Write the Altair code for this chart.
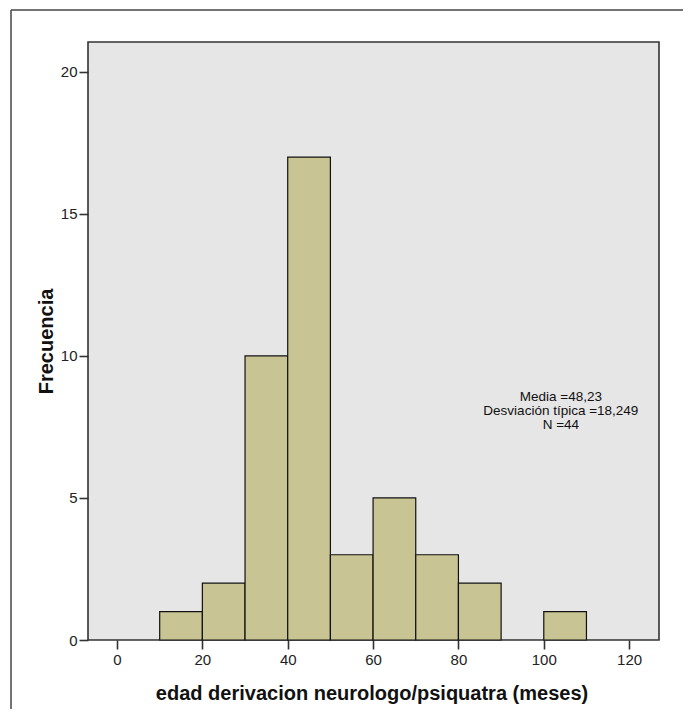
import altair as alt
import pandas as pd

bin_start = [10, 20, 30, 40, 50, 60, 70, 80, 100]
bin_end = [20, 30, 40, 50, 60, 70, 80, 90, 110]
counts = [1, 2, 10, 17, 3, 5, 3, 2, 1]
x_ticks = [0, 20, 40, 60, 80, 100, 120]
y_ticks = [0, 5, 10, 15, 20]
stats_lines = ["Media =48,23", "Desviación típica =18,249", "N =44"]
stats_x = [104, 104, 104]
stats_y = [8.54, 8.06, 7.58]

df = pd.DataFrame({"start": bin_start, "end": bin_end, "count": counts})
df_txt = pd.DataFrame({"x": stats_x, "y": stats_y, "t": stats_lines})

W, H = 571, 598
FONT = "Liberation Sans"

xscale = alt.Scale(domain=[-6.8, 127], nice=False, zero=False)
yscale = alt.Scale(domain=[0, 21.05], nice=False)

bars = alt.Chart(df).mark_rect(fill="#c9c493", stroke="#111111", strokeWidth=1.2).encode(
    x=alt.X("start:Q", scale=xscale,
            axis=alt.Axis(values=x_ticks, title="edad derivacion neurologo/psiquatra (meses)",
                          grid=False, domain=False, tickSize=9, tickWidth=1.6, tickColor="#333333",
                          labelPadding=3, labelFontSize=15, labelFont=FONT, labelColor="#222222",
                          titleFont=FONT, titleFontSize=20, titleFontWeight="bold", titleColor="#111111",
                          titleX=W / 2 - 2, titleY=53, titleBaseline="middle")),
    x2="end:Q",
    y=alt.Y("count:Q", scale=yscale,
            axis=alt.Axis(values=y_ticks, title="Frecuencia",
                          grid=False, domain=False, tickSize=9, tickWidth=1.6, tickColor="#333333",
                          labelPadding=2, labelFontSize=15, labelFont=FONT, labelColor="#222222",
                          titleFont=FONT, titleFontSize=20, titleFontWeight="bold", titleColor="#111111",
                          titleX=-42, titleY=H / 2, titleAngle=270, titleBaseline="middle",
                          titleAlign="center")),
    y2=alt.datum(0),
)

text = alt.Chart(df_txt).mark_text(font=FONT, fontSize=13.5, color="#111111", align="center",
                                   baseline="middle").encode(
    x=alt.X("x:Q", scale=xscale),
    y=alt.Y("y:Q", scale=yscale),
    text="t:N",
)

frame_left = alt.Chart(df.head(1)).mark_rule(color="#444444", strokeWidth=1.5).encode(
    x=alt.value(-77), y=alt.value(-32), y2=alt.value(700))
frame_top = alt.Chart(df.head(1)).mark_rule(color="#444444", strokeWidth=1.5).encode(
    x=alt.value(-77), x2=alt.value(700), y=alt.value(-32))

chart = alt.layer(bars, text, frame_left, frame_top).properties(
    width=W, height=H,
    autosize=alt.AutoSizeParams(type="none"),
    padding={"left": 80, "top": 34, "right": 24, "bottom": 69},
    background="white",
).configure_view(fill="#e6e6e6", stroke="#333333", strokeWidth=1.6)

chart.save("out.html", embed_options={"renderer": "svg", "actions": False})
